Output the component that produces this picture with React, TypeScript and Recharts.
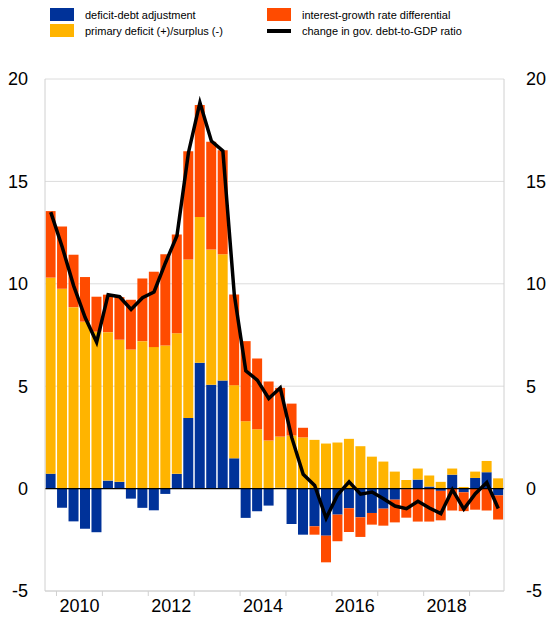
import {
  ComposedChart,
  Bar,
  Line,
  XAxis,
  YAxis,
  CartesianGrid,
  ReferenceLine,
} from "recharts";

const quarters = [
  "2009Q4",
  "2010Q1", "2010Q2", "2010Q3", "2010Q4",
  "2011Q1", "2011Q2", "2011Q3", "2011Q4",
  "2012Q1", "2012Q2", "2012Q3", "2012Q4",
  "2013Q1", "2013Q2", "2013Q3", "2013Q4",
  "2014Q1", "2014Q2", "2014Q3", "2014Q4",
  "2015Q1", "2015Q2", "2015Q3", "2015Q4",
  "2016Q1", "2016Q2", "2016Q3", "2016Q4",
  "2017Q1", "2017Q2", "2017Q3", "2017Q4",
  "2018Q1", "2018Q2", "2018Q3", "2018Q4",
  "2019Q1", "2019Q2", "2019Q3",
];

// deficit-debt adjustment
const dda = [
  0.73, -0.94, -1.6, -1.96, -2.13, 0.39, 0.33, -0.49, -0.94, -1.06,
  -0.26, 0.72, 3.45, 6.14, 5.07, 5.28, 1.48, -1.43, -1.11, -0.83,
  0.04, -1.73, -2.25, -1.84, -2.3, -1.27, -0.96, -1.4, -1.19, -0.98,
  -0.54, -0.03, 0.44, 0.1, -0.11, 0.68, -0.18, 0.52, 0.8, -0.33,
];

// primary deficit (+)/surplus (-)
const primary = [
  9.57, 9.76, 8.86, 8.15, 7.66, 7.25, 6.94, 6.79, 7.2, 6.91,
  6.99, 6.86, 7.74, 7.12, 6.61, 6.16, 3.57, 3.29, 2.9, 2.35,
  2.5, 2.59, 2.5, 2.38, 2.2, 2.25, 2.43, 2.07, 1.56, 1.32,
  0.83, 0.42, 0.54, 0.54, 0.33, 0.3, 0.08, 0.31, 0.55, 0.5,
];

// interest-growth rate differential
const igd = [
  3.25, 3.04, 2.56, 2.18, 1.71, 1.83, 2.08, 2.43, 3.06, 3.68,
  4.45, 4.83, 5.28, 5.47, 5.26, 5.08, 4.43, 3.91, 3.45, 2.88,
  2.38, 1.56, 0.47, -0.41, -1.3, -1.3, -1.16, -0.96, -0.57, -0.83,
  -1.11, -1.39, -1.61, -1.61, -1.44, -1.07, -0.92, -1.03, -1.07, -1.18,
];

// change in gov. debt-to-GDP ratio
const change = [
  13.5, 11.8, 9.9, 8.35, 7.15, 9.47, 9.37, 8.75, 9.32, 9.6,
  11.03, 12.35, 16.4, 18.85, 16.97, 16.49, 9.45, 5.75, 5.3, 4.4,
  4.92, 2.5, 0.7, 0.15, -1.45, -0.3, 0.33, -0.27, -0.17, -0.5,
  -0.85, -0.98, -0.62, -0.95, -1.22, -0.05, -1.0, -0.25, 0.3, -0.97,
];

const yTicks = [-5, 0, 5, 10, 15, 20];

const BLUE = "#003299";
const YELLOW = "#FFB400";
const ORANGE = "#FF4B00";
const FONT = "'Liberation Sans', Arial, sans-serif";

const W = 552;
const H = 618;
const LEFT_W = 45;
const RIGHT_W = 48;
const PLOT_W = W - LEFT_W - RIGHT_W;

const data = quarters.map((q, i) => ({
  q,
  dda: dda[i],
  primary: primary[i],
  igd: igd[i],
  change: change[i],
}));

function YearTick(props: any) {
  const { x, y, payload } = props;
  const bw = PLOT_W / quarters.length;
  const label: string = payload.value;
  const year = Number(label.slice(0, 4));
  const qn = label.slice(5);
  const edge = x - bw / 2;
  return (
    <g>
      {qn === "1" && (
        <line x1={edge} x2={edge} y1={y} y2={y + 5} stroke="#d0d0d0" strokeWidth={1} />
      )}
      {qn === "3" && year % 2 === 0 && (
        <text x={edge} y={y + 21} textAnchor="middle" fontSize={18} fontFamily={FONT} fill="#000">
          {year}
        </text>
      )}
    </g>
  );
}

function Legend() {
  const item = (left: number, top: number, swatch: any, label: string) => (
    <div style={{ position: "absolute", left, top, display: "flex", alignItems: "center" }}>
      {swatch}
      <span style={{ marginLeft: 11, fontSize: 11, fontFamily: FONT, color: "#000", whiteSpace: "nowrap" }}>
        {label}
      </span>
    </div>
  );
  const box = (c: string) => <div style={{ width: 24, height: 13, background: c }} />;
  const ln = (
    <div style={{ width: 24, height: 13, display: "flex", alignItems: "center" }}>
      <div style={{ width: 24, height: 4, background: "#000" }} />
    </div>
  );
  return (
    <>
      {item(50, 8, box(BLUE), "deficit-debt adjustment")}
      {item(50, 24, box(YELLOW), "primary deficit (+)/surplus (-)")}
      {item(267, 8, box(ORANGE), "interest-growth rate differential")}
      {item(267, 24, ln, "change in gov. debt-to-GDP ratio")}
    </>
  );
}

export default function App() {
  return (
    <div style={{ position: "absolute", left: 0, top: 0, width: W, height: H, background: "#fff" }}>
      <Legend />
      <ComposedChart
        width={W}
        height={H}
        data={data}
        stackOffset="sign"
        barCategoryGap="5%"
        margin={{ top: 79, right: 0, bottom: 0, left: 0 }}
      >
        <CartesianGrid yAxisId="left" vertical={false} stroke="#dcdcdc" />
        <XAxis
          dataKey="q"
          height={27}
          interval={0}
          tickLine={false}
          tickSize={0}
          tickMargin={0}
          axisLine={{ stroke: "#d0d0d0" }}
          tick={<YearTick />}
        />
        <YAxis
          yAxisId="left"
          width={LEFT_W}
          domain={[-5, 20]}
          ticks={yTicks}
          tickLine={false}
          tickMargin={11}
          axisLine={{ stroke: "#d0d0d0" }}
          tick={{ fontSize: 18, fontFamily: FONT, fill: "#000" }}
        />
        <YAxis
          yAxisId="right"
          orientation="right"
          width={RIGHT_W}
          domain={[-5, 20]}
          ticks={yTicks}
          allowDataOverflow
          tickLine={false}
          tickMargin={16}
          axisLine={{ stroke: "#d0d0d0" }}
          tick={{ fontSize: 18, fontFamily: FONT, fill: "#000" }}
        />
        <Bar yAxisId="left" dataKey="dda" stackId="a" fill={BLUE} isAnimationActive={false} />
        <Bar yAxisId="left" dataKey="primary" stackId="a" fill={YELLOW} isAnimationActive={false} />
        <Bar yAxisId="left" dataKey="igd" stackId="a" fill={ORANGE} isAnimationActive={false} />
        <ReferenceLine yAxisId="left" y={0} stroke="#000" strokeWidth={1.2} />
        <Line
          yAxisId="right"
          type="linear"
          dataKey="change"
          stroke="#000"
          strokeWidth={3.5}
          dot={false}
          isAnimationActive={false}
        />
      </ComposedChart>
    </div>
  );
}
